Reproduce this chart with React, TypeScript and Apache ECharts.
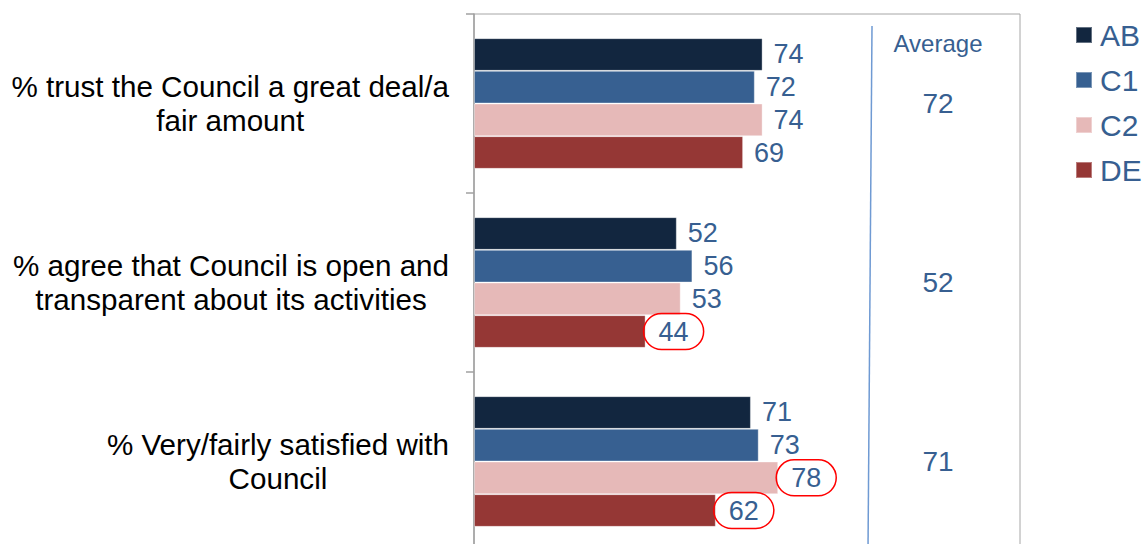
import React, { useEffect, useRef } from "react";
import * as echarts from "echarts";

const categories = [
  "% trust the Council a great deal/a\nfair amount",
  "% agree that Council is open and\ntransparent about its activities",
  "% Very/fairly satisfied with\nCouncil",
];
const seriesNames = ["AB", "C1", "C2", "DE"];
const valuesAB = [74, 52, 71];
const valuesC1 = [72, 56, 73];
const valuesC2 = [74, 53, 78];
const valuesDE = [69, 44, 62];
const averages = [72, 52, 71];
// highlighted (circled) values: [seriesIndex, categoryIndex]
const circled = [
  [3, 1],
  [2, 2],
  [3, 2],
];

const colors = ["#12263F", "#376091", "#E6B9B8", "#953735"];
const blue = "#375F91";
const font = "Liberation Sans, Arial, sans-serif";

export default function App() {
  const ref = useRef<HTMLDivElement>(null);
  useEffect(() => {
    if (!ref.current) return;
    const chart = echarts.init(ref.current, null, { renderer: "svg" });
    const all = [valuesAB, valuesC1, valuesC2, valuesDE];
    const barSeries = all.map((vals, si) => ({
      name: seriesNames[si],
      type: "bar",
      barGap: "0%",
      barCategoryGap: "27%",
      itemStyle: { color: colors[si], borderColor: "rgba(255,255,255,0.35)", borderWidth: 1 },
      label: {
        show: true,
        position: "right",
        distance: 11,
        color: blue,
        fontSize: 27,
        fontFamily: font,
      },
      data: vals.map((v, ci) => {
        const isCircled = circled.some((c) => c[0] === si && c[1] === ci);
        if (!isCircled) return v;
        return {
          value: v,
          label: {
            distance: -2,
            borderColor: "#FF0000",
            borderWidth: 1.5,
            borderRadius: 20,
            padding: [5, 15, 4, 15],
          },
        };
      }),
    }));
    const AVG_X = 119;
    chart.setOption({
      animation: false,
      textStyle: { fontFamily: font },
      grid: {
        left: 474,
        right: 124,
        top: 14,
        bottom: 0,
        show: true,
        borderColor: "#A6A6A6",
        borderWidth: 1,
      },
      legend: {
        orient: "vertical",
        left: 1075,
        top: 20,
        padding: 0,
        itemWidth: 16,
        itemHeight: 16,
        itemGap: 15,
        icon: "rect",
        data: seriesNames,
        textStyle: { color: blue, fontSize: 30, lineHeight: 30, fontFamily: font, padding: [0, 0, 0, 3] },
      },
      xAxis: {
        type: "value",
        min: 0,
        max: 140,
        show: false,
        splitLine: { show: false },
      },
      yAxis: {
        type: "category",
        inverse: true,
        data: categories,
        axisLine: { show: true, lineStyle: { color: "#A0A0A0", width: 1.5 } },
        axisTick: { show: true, length: 8, lineStyle: { color: "#A0A0A0", width: 1.5 } },
        axisLabel: {
          margin: 25,
          formatter: (v: string) =>
            v
              .split("\n")
              .map((l) => `{c|${l}}`)
              .join("\n"),
          rich: {
            c: {
              align: "center",
              fontSize: 29.6,
              lineHeight: 34,
              color: "#000000",
              fontFamily: font,
            },
          },
        },
      },
      series: [
        ...barSeries,
        {
          type: "scatter",
          symbolSize: 0,
          silent: true,
          itemStyle: { opacity: 1 },
          data: averages.map((v, i) => [AVG_X, i, v]),
          label: {
            show: true,
            position: "inside",
            formatter: (p: any) => String(p.value[2]),
            color: blue,
            opacity: 1,
            fontSize: 28,
            fontFamily: font,
          },
          z: 5,
        },
      ],
      graphic: [
        {
          type: "line",
          shape: { x1: 872, y1: 26, x2: 868, y2: 551 },
          style: { stroke: "#6F9AD3", lineWidth: 1.5 },
        },
        {
          type: "text",
          x: 938,
          y: 43,
          style: {
            text: "Average",
            fill: blue,
            fontSize: 24,
            fontFamily: font,
            align: "center",
            verticalAlign: "middle",
          },
        },
      ],
    });
    return () => chart.dispose();
  }, []);
  return (
    <div
      style={{
        position: "fixed",
        left: 0,
        top: 0,
        width: 1144,
        height: 544,
        overflow: "hidden",
        background: "#fff",
      }}
    >
      <div ref={ref} style={{ width: 1144, height: 551 }} />
    </div>
  );
}
